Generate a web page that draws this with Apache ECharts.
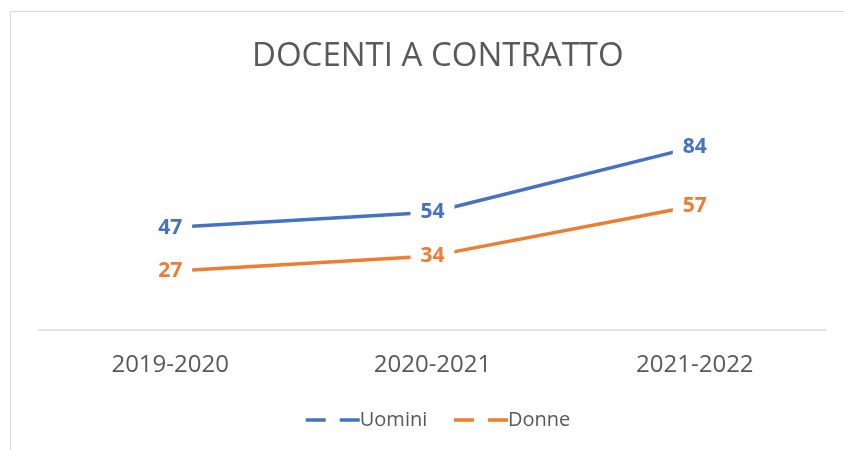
<!DOCTYPE html>
<html>
<head>
<meta charset="utf-8">
<script src="https://cdn.jsdelivr.net/npm/echarts@6/dist/echarts.min.js"></script>
<style>
  html, body { margin: 0; padding: 0; background: #fff; }
  #main { width: 844px; height: 450px; }
</style>
</head>
<body>
<div id="main"></div>
<script>
var categories = ['2019-2020', '2020-2021', '2021-2022'];
var uomini = [47, 54, 84];
var donne = [27, 34, 57];

var dom = document.getElementById('main');
var chart = echarts.init(dom);
var font = 'Open Sans';

function labelOf(color) {
    return {
        show: true,
        position: 'inside',
        color: color,
        fontFamily: font,
        fontSize: 21,
        fontWeight: 'bold',
        backgroundColor: '#fff',
        padding: [2, 10, 2, 10]
    };
}

var option = {
    animation: false,
    backgroundColor: '#fff',
    title: {
        text: 'DOCENTI A CONTRATTO',
        left: 247,
        top: 35,
        textStyle: {
            fontFamily: font,
            fontSize: 33,
            fontWeight: 'normal',
            color: '#595959'
        }
    },
    graphic: [{
        type: 'rect',
        shape: { x: 10.5, y: 11.5, width: 900, height: 500 },
        style: { fill: null, stroke: '#d9d9d9', lineWidth: 1 },
        silent: true
    }],
    legend: {
        data: ['Uomini', 'Donne'],
        left: 299,
        top: 405,
        itemWidth: 54,
        itemHeight: 14,
        itemGap: 25,
        textStyle: { fontFamily: font, fontSize: 20, color: '#595959', padding: [0, 0, 0, -5] },
        itemStyle: { color: 'transparent', borderWidth: 0 },
        lineStyle: { type: [20, 14], width: 3.5 }
    },
    grid: {
        left: 39,
        right: 18,
        top: 112,
        bottom: 120
    },
    xAxis: {
        type: 'category',
        data: categories,
        axisLine: { lineStyle: { color: '#d9d9d9', width: 1.5 } },
        axisTick: { show: false },
        axisLabel: { fontFamily: font, fontSize: 24, color: '#595959', margin: 23 }
    },
    yAxis: {
        type: 'value',
        min: 0,
        max: 100,
        show: false
    },
    series: [
        {
            name: 'Uomini',
            type: 'line',
            data: uomini,
            symbol: 'circle',
            symbolSize: 0,
            color: '#4472c4',
            lineStyle: { width: 3.5, color: '#4472c4' },
            label: labelOf('#4472c4')
        },
        {
            name: 'Donne',
            type: 'line',
            data: donne,
            symbol: 'circle',
            symbolSize: 0,
            color: '#ed7d31',
            lineStyle: { width: 3.5, color: '#ed7d31' },
            label: labelOf('#ed7d31')
        }
    ]
};
chart.setOption(option);
</script>
</body>
</html>
